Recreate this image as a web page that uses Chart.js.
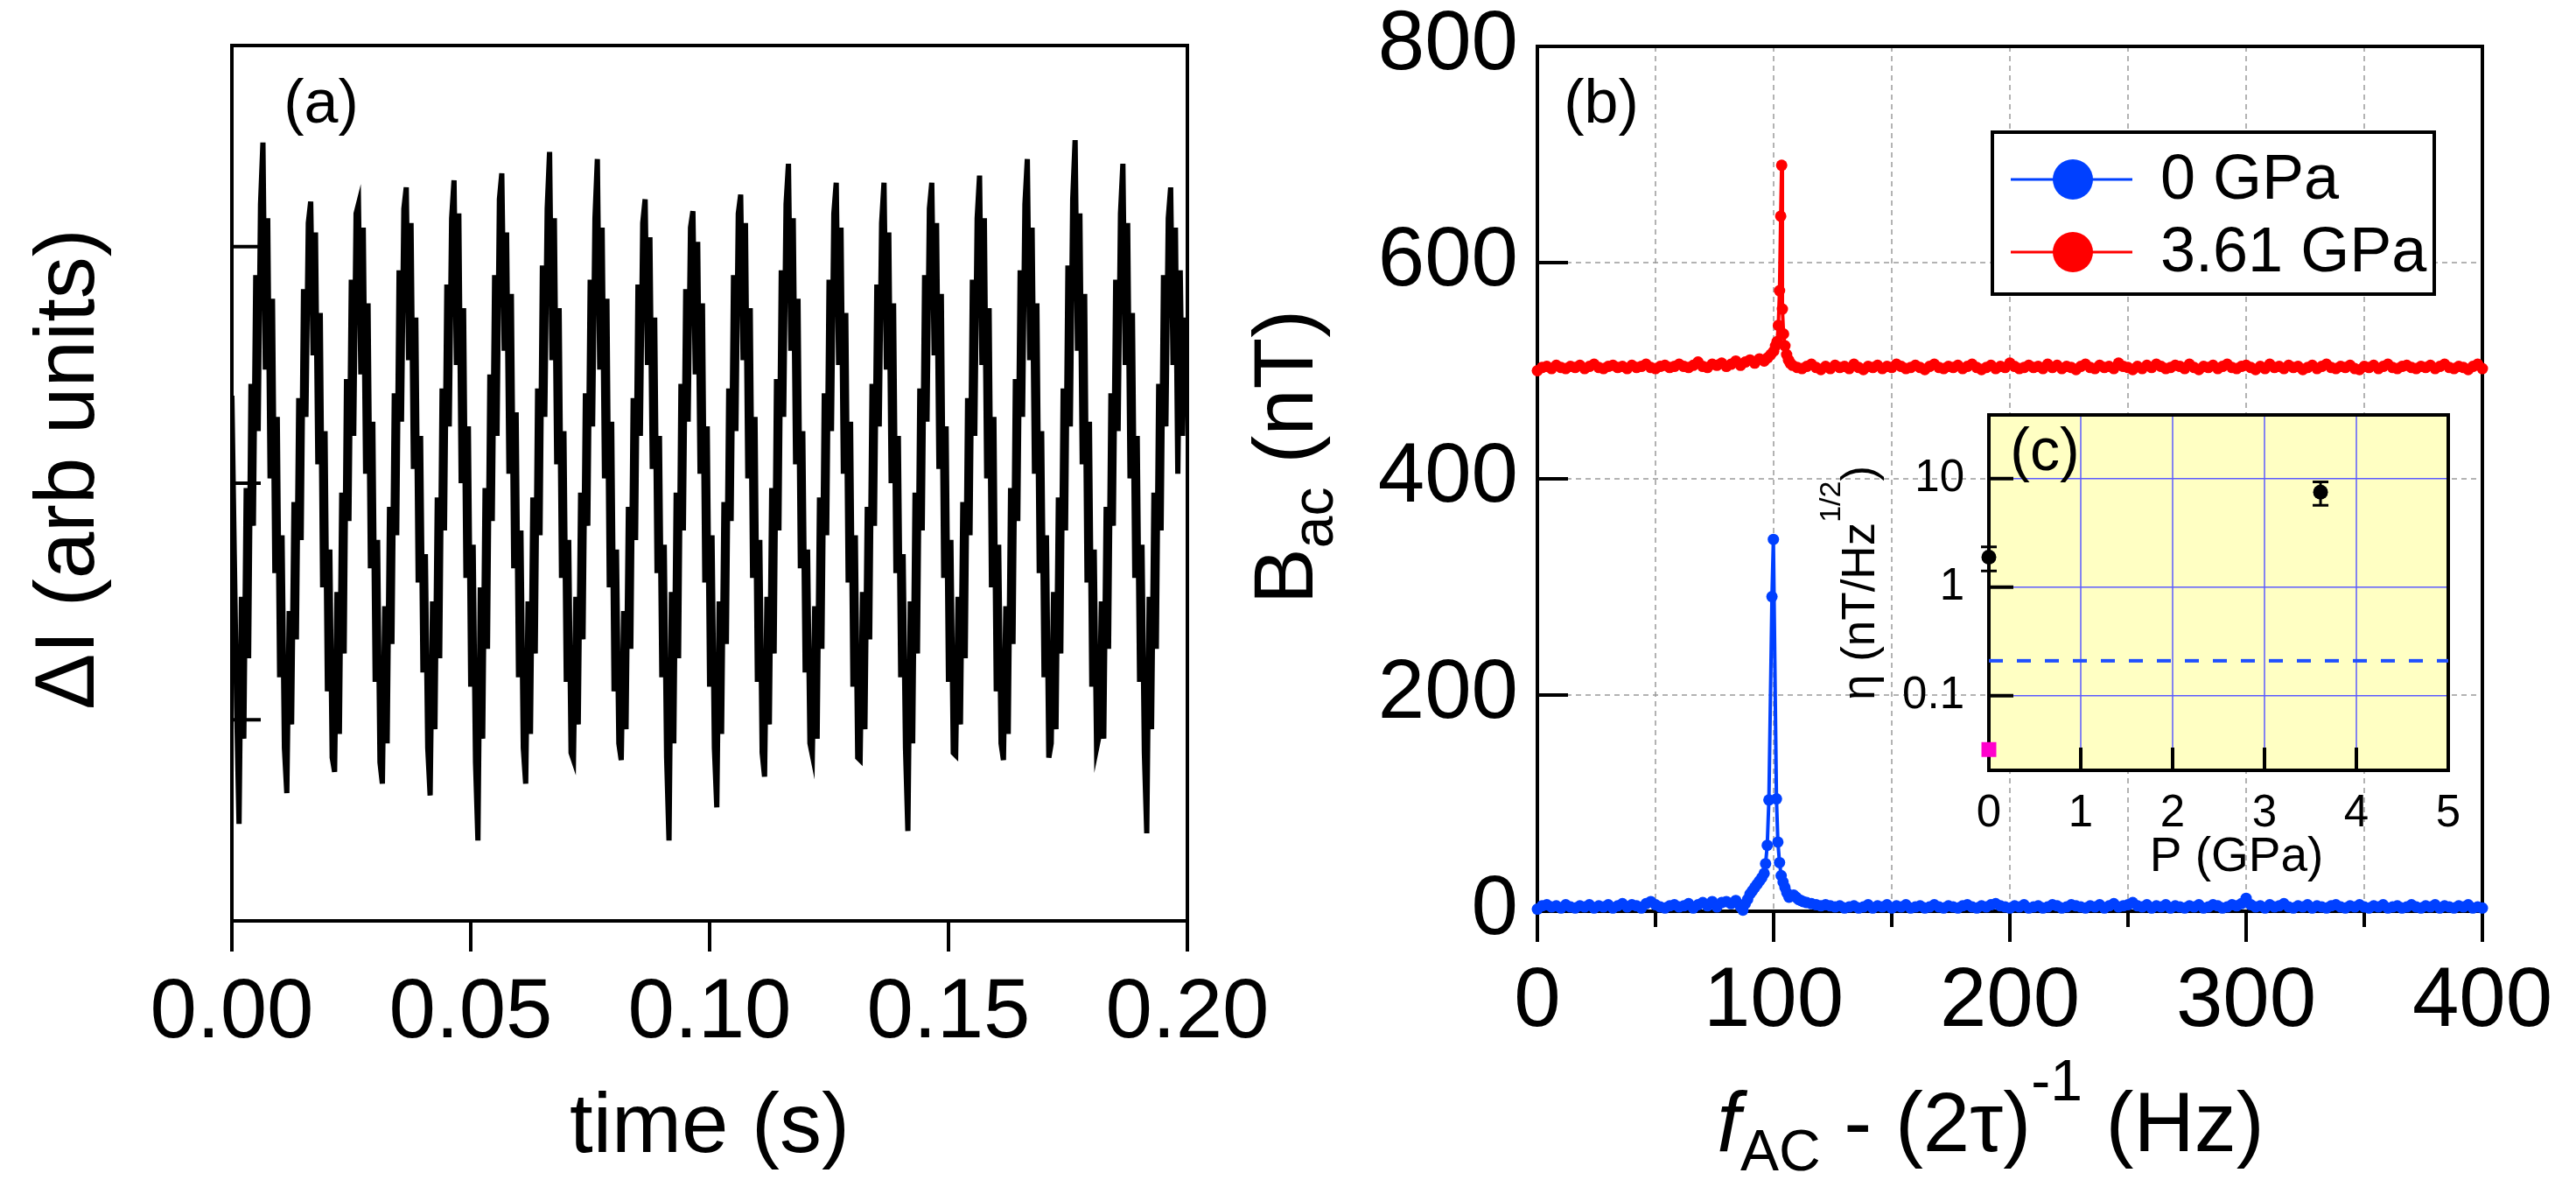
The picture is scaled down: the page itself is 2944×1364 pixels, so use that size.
<!DOCTYPE html>
<html>
<head>
<meta charset="utf-8">
<script src="https://cdn.jsdelivr.net/npm/chart.js@4.4.0/dist/chart.umd.min.js"></script>
<style>
  html, body { margin: 0; padding: 0; background: #fff; }
  #wrap { position: relative; width: 2944px; height: 1364px; overflow: hidden; }
  canvas { position: absolute; }
  #ca { left: 0; top: 0; }
  #cb { left: 1380px; top: 0; }
  #cc { left: 2000px; top: 400px; }
</style>
</head>
<body>
<div id="wrap">
  <canvas id="ca" width="1480" height="1364"></canvas>
  <canvas id="cb" width="1564" height="1364"></canvas>
  <canvas id="cc" width="860" height="640"></canvas>
</div>
<script>
const FONT = "'Liberation Sans', Arial, sans-serif";

// ---- (a) current trace, one sample every 0.5 ms from t = 0 ----
const traceT0 = 0;
const traceDt = 0.0005;
const traceI = [
  0.37, -0.3, -0.95,
  -1.44, -0.48, -1.08, -0.02, -0.74, 0.42, -0.18, 0.88, 0.22, 1.18, 1.44, 0.48, 1.12, 0.02, 0.78, -0.38, 0.28, -0.82, -0.22, -1.12,
  -1.31, -0.54, -1.02, -0.08, -0.66, 0.36, -0.24, 0.82, 0.28, 1.1, 1.19, 0.54, 1.06, 0.08, 0.72, -0.44, 0.22, -0.88, -0.28, -1.16,
  -1.22, -0.46, -1.06, -0.04, -0.72, 0.44, -0.16, 0.86, 0.2, 1.14, 1.18, 0.46, 1.08, 0.04, 0.76, -0.36, 0.26, -0.84, -0.24, -1.18,
  -1.27, -0.52, -1.1, -0.1, -0.68, 0.38, -0.22, 0.9, 0.26, 1.16, 1.25, 0.52, 1.1, 0.06, 0.7, -0.42, 0.2, -0.8, -0.3, -1.12,
  -1.32, -0.5, -1.04, -0.06, -0.74, 0.4, -0.2, 0.84, 0.24, 1.12, 1.28, 0.5, 1.14, 0.0, 0.74, -0.4, 0.24, -0.86, -0.26, -1.18,
  -1.51, -0.44, -1.08, -0.02, -0.7, 0.46, -0.16, 0.88, 0.2, 1.2, 1.31, 0.56, 1.06, 0.04, 0.8, -0.36, 0.3, -0.82, -0.2, -1.12,
  -1.27, -0.5, -1.06, -0.06, -0.72, 0.4, -0.22, 0.92, 0.28, 1.16, 1.4, 0.52, 1.12, 0.08, 0.74, -0.4, 0.22, -0.84, -0.24, -1.14,
  -1.17, -0.48, -1.02, -0.04, -0.66, 0.38, -0.18, 0.86, 0.24, 1.12, 1.37, 0.48, 1.08, 0.02, 0.78, -0.44, 0.26, -0.88, -0.28, -1.1,
  -1.17, -0.54, -1.04, -0.1, -0.7, 0.36, -0.24, 0.84, 0.2, 1.1, 1.2, 0.5, 1.04, 0.06, 0.7, -0.38, 0.2, -0.82, -0.26, -1.16,
  -1.51, -0.46, -1.1, -0.04, -0.74, 0.42, -0.2, 0.82, 0.26, 1.08, 1.15, 0.46, 1.02, 0.04, 0.76, -0.42, 0.24, -0.86, -0.22, -1.12,
  -1.37, -0.5, -1.06, -0.08, -0.68, 0.4, -0.16, 0.88, 0.22, 1.14, 1.22, 0.52, 1.1, 0.02, 0.74, -0.4, 0.28, -0.84, -0.24, -1.14,
  -1.24, -0.48, -1.02, -0.02, -0.72, 0.44, -0.2, 0.9, 0.28, 1.18, 1.35, 0.56, 1.12, 0.08, 0.78, -0.36, 0.22, -0.8, -0.28, -1.1,
  -1.15, -0.52, -1.08, -0.06, -0.7, 0.38, -0.22, 0.86, 0.22, 1.14, 1.27, 0.5, 1.08, 0.04, 0.72, -0.42, 0.26, -0.86, -0.22, -1.16,
  -1.17, -0.46, -1.04, -0.1, -0.66, 0.42, -0.18, 0.84, 0.24, 1.1, 1.27, 0.48, 1.06, 0.0, 0.76, -0.38, 0.2, -0.82, -0.3, -1.12,
  -1.47, -0.5, -1.1, -0.04, -0.72, 0.4, -0.2, 0.88, 0.26, 1.16, 1.27, 0.54, 1.1, 0.06, 0.8, -0.4, 0.24, -0.84, -0.24, -1.14,
  -1.15, -0.48, -1.02, -0.08, -0.74, 0.36, -0.22, 0.86, 0.2, 1.12, 1.3, 0.5, 1.12, 0.02, 0.74, -0.44, 0.28, -0.88, -0.26, -1.1,
  -1.17, -0.52, -1.06, -0.02, -0.68, 0.44, -0.16, 0.9, 0.28, 1.18, 1.37, 0.52, 1.08, 0.04, 0.76, -0.38, 0.22, -0.82, -0.22, -1.16,
  -1.1, -0.46, -1.04, -0.06, -0.72, 0.4, -0.2, 0.92, 0.24, 1.2, 1.45, 0.56, 1.14, 0.08, 0.8, -0.42, 0.26, -0.86, -0.28, -1.12,
  -1.07, -0.5, -1.08, -0.1, -0.7, 0.38, -0.18, 0.86, 0.22, 1.14, 1.35, 0.5, 1.1, 0.02, 0.72, -0.4, 0.2, -0.84, -0.26, -1.14,
  -1.48, -0.48, -1.04, -0.04, -0.7, 0.42, -0.2, 0.88, 0.24, 1.12, 1.25, 0.5, 1.08, 0.04, 0.9, 0.2, 0.7, 0.37
];
const timeTicks = [0, 0.05, 0.1, 0.15, 0.2];
const traceTicks = [-1, 0, 1];

// ---- (b) spectra: evenly spaced stretches (start, 2 Hz step) + the resolved peak ----
const specStep = 2;
const blueLowStart = 0;
const blueLow = [
  2, 5, 6, 4, 5, 3, 6, 4, 3, 5,
  4, 6, 3, 5, 4, 6, 3, 5, 7, 4,
  6, 5, 3, 7, 9, 6, 4, 3, 5, 6,
  4, 5, 7, 3, 6, 8, 5, 9, 4, 8,
  9, 7, 10
];
const bluePeakF = [86, 87, 88, 89, 90, 91, 92, 93, 94, 95, 96, 96.6, 97.3, 98.0, 99.3, 99.9, 101.2, 101.8, 102.5, 103.2, 104, 104.8, 105.6, 106.5, 107.5, 108.5, 109.5, 110.5, 111.5, 112.5, 114, 116, 118, 120];
const bluePeakB = [4, 1, 7, 11, 16, 19, 22, 25, 28, 31, 35, 44, 61, 103, 291, 344, 104, 64, 45, 33, 27, 22, 17, 13, 14, 15, 13, 11, 10, 9, 8, 7, 6, 5];
const blueHighStart = 122;
const blueHigh = [
  6, 5, 4, 5, 3, 4, 5, 3, 4, 6,
  3, 5, 4, 6, 3, 5, 4, 6, 3, 4,
  5, 3, 4, 6, 4, 3, 5, 4, 3, 5,
  6, 4, 3, 5, 4, 6, 7, 5, 4, 3,
  5, 4, 6, 3, 4, 5, 3, 4, 6, 5,
  3, 4, 6, 5, 4, 3, 5, 4, 6, 3,
  5, 7, 4, 5, 6, 8, 5, 4, 6, 3,
  5, 4, 6, 3, 5, 4, 3, 5, 4, 6,
  3, 4, 6, 5, 3, 4, 6, 5, 7, 12,
  6, 4, 5, 3, 6, 4, 5, 7, 4, 3,
  5, 4, 6, 3, 5, 4, 3, 5, 6, 4,
  3, 5, 4, 6, 4, 3, 5, 4, 6, 3,
  4, 5, 3, 4, 6, 4, 3, 5, 4, 6,
  3, 5, 4, 3, 5, 4, 6, 3, 4, 3
];
const redLowStart = 0;
const redLow = [
  500, 503, 504, 502, 505, 503, 502, 504, 503, 505,
  502, 504, 506, 503, 502, 504, 505, 503, 504, 502,
  505, 503, 504, 506, 503, 502, 504, 505, 503, 504,
  506, 504, 503, 505, 508, 504, 503, 506, 505, 507,
  504, 506, 509, 505, 508, 510, 507, 511, 509
];
const redPeakF = [97.5, 98.8, 100, 100.8, 101.5, 102.0, 102.5, 103.0, 103.4, 103.7, 104.2, 104.8, 105.5, 106.3, 107];
const redPeakB = [512, 515, 518, 523, 527, 542, 574, 643, 690, 557, 534, 523, 515, 510, 507];
const redHighStart = 108;
const redHigh = [
  505, 503, 502, 504, 506, 503, 501, 504, 502, 505,
  503, 504, 502, 506, 503, 501, 504, 503, 505, 502,
  504, 503, 506, 504, 502, 503, 505, 503, 501, 504,
  506, 503, 502, 504, 503, 505, 502, 504, 506, 503,
  501, 503, 505, 502, 504, 503, 507, 504, 502, 503,
  505, 503, 504, 502, 506, 503, 505, 502, 504, 503,
  501, 504, 506, 503, 502, 505, 503, 504, 502, 507,
  504, 503, 501, 504, 502, 505, 503, 506, 504, 502,
  503, 505, 504, 502, 506, 503, 501, 504, 503, 505,
  502, 504, 506, 503, 502, 504, 505, 503, 501, 504,
  502, 506, 503, 504, 502, 505, 503, 504, 501, 503,
  505, 502, 504, 506, 503, 502, 504, 503, 505, 502,
  501, 504, 503, 505, 502, 504, 506, 503, 502, 504,
  505, 503, 502, 504, 503, 505, 502, 504, 506, 503,
  502, 504, 503, 501, 504, 506, 502
];
const seriesNames = ['0 GPa', '3.61 GPa'];
const seriesColors = ['#0040ff', '#ff0000'];
const freqTicks = [0, 100, 200, 300, 400];
const freqMinor = [50, 150, 250, 350];
const freqGrid = [50, 100, 150, 200, 250, 300, 350];
const bTicks = [200, 400, 600];

// ---- (c) sensitivity vs pressure ----
const pressure = [0, 3.61];
const eta = [1.89, 7.48];
const etaLow = [1.41, 5.66];
const etaHigh = [2.35, 9.3];
const refP = [0];
const refEta = [0.032];
const limitP = [0, 5];
const limitEta = [0.21, 0.21];
const pTicks = [1, 2, 3, 4];
const etaTicks = [0.1, 1, 10];

const fontOf = p => (p.italic ? 'italic ' : '') + p.size + 'px ' + FONT;

// draw a run of text pieces (sub/superscripts via dy) centred on x, along a baseline
function drawParts(ctx, parts, x, y, angle) {
  ctx.save();
  ctx.translate(x, y);
  if (angle) ctx.rotate(angle);
  ctx.fillStyle = '#000';
  ctx.textBaseline = 'alphabetic';
  ctx.textAlign = 'left';
  let total = 0;
  parts.forEach(p => { ctx.font = fontOf(p); p.w = ctx.measureText(p.t).width; total += p.w; });
  let cx = -total / 2;
  parts.forEach(p => { ctx.font = fontOf(p); ctx.fillText(p.t, cx, p.dy || 0); cx += p.w; });
  ctx.restore();
}

function spectrum(lowStart, low, peakF, peakB, highStart, high) {
  const pts = low.map((b, i) => ({ x: lowStart + i * specStep, y: b }));
  peakF.forEach((f, i) => pts.push({ x: f, y: peakB[i] }));
  high.forEach((b, i) => pts.push({ x: highStart + i * specStep, y: b }));
  return pts;
}

const common = {
  responsive: false,
  animation: false,
  events: [],
  devicePixelRatio: 1,
  plugins: { legend: { display: false }, tooltip: { enabled: false } }
};

// ---------- panel (a) ----------
const panelA = {
  id: 'panelA',
  afterDatasetsDraw(chart) {
    const { ctx, chartArea: a, scales: { x, y } } = chart;
    ctx.save();
    ctx.strokeStyle = '#000';
    ctx.lineWidth = 4;
    ctx.strokeRect(a.left, a.top, a.right - a.left, a.bottom - a.top);
    ctx.beginPath();
    timeTicks.forEach(v => {
      const p = x.getPixelForValue(v);
      ctx.moveTo(p, a.bottom); ctx.lineTo(p, a.bottom + 35);
    });
    traceTicks.forEach(v => {
      const p = y.getPixelForValue(v);
      ctx.moveTo(a.left, p); ctx.lineTo(a.left + 33, p);
    });
    ctx.stroke();
    ctx.restore();
    drawParts(ctx, [{ t: '(a)', size: 70 }], 367, 140);
    drawParts(ctx, [{ t: 'time (s)', size: 96 }], (a.left + a.right) / 2, 1316);
    drawParts(ctx, [{ t: '\u0394I (arb units)', size: 96 }], 107, 536, -Math.PI / 2);
  }
};

new Chart(document.getElementById('ca'), {
  type: 'line',
  data: {
    datasets: [{
      data: traceI.map((v, i) => ({ x: traceT0 + i * traceDt, y: v })),
      borderColor: '#000',
      borderWidth: 6,
      pointRadius: 0,
      tension: 0
    }]
  },
  options: {
    ...common,
    layout: { padding: { top: 52, right: 123, left: 0, bottom: 0 } },
    scales: {
      x: {
        type: 'linear', min: 0, max: 0.2,
        afterBuildTicks: s => { s.ticks = timeTicks.map(v => ({ value: v })); },
        ticks: { font: { family: FONT, size: 96 }, color: '#000', padding: 49, maxRotation: 0, autoSkip: false, callback: v => v.toFixed(2) },
        grid: { display: false, drawTicks: false },
        border: { display: false },
        afterFit: s => { s.height = 312; s.paddingLeft = 0; s.paddingRight = 0; }
      },
      y: {
        min: -1.85, max: 1.85,
        ticks: { display: false },
        grid: { display: false, drawTicks: false },
        border: { display: false },
        afterFit: s => { s.width = 265; s.paddingTop = 0; s.paddingBottom = 0; }
      }
    }
  },
  plugins: [panelA]
});

// ---------- panel (b) ----------
const panelB = {
  id: 'panelB',
  beforeDatasetsDraw(chart) {
    const { ctx, chartArea: a, scales: { x, y } } = chart;
    ctx.save();
    ctx.strokeStyle = '#9a9a9a';
    ctx.lineWidth = 1.5;
    ctx.setLineDash([6, 5]);
    ctx.beginPath();
    freqGrid.forEach(v => { const p = x.getPixelForValue(v); ctx.moveTo(p, a.top); ctx.lineTo(p, a.bottom); });
    bTicks.forEach(v => { const p = y.getPixelForValue(v); ctx.moveTo(a.left, p); ctx.lineTo(a.right, p); });
    ctx.stroke();
    ctx.setLineDash([]);
    ctx.strokeStyle = '#000';
    ctx.lineWidth = 4;
    ctx.strokeRect(a.left, a.top, a.right - a.left, a.bottom - a.top);
    ctx.beginPath();
    freqTicks.forEach(v => { const p = x.getPixelForValue(v); ctx.moveTo(p, a.bottom); ctx.lineTo(p, a.bottom + 35); });
    freqMinor.forEach(v => { const p = x.getPixelForValue(v); ctx.moveTo(p, a.bottom); ctx.lineTo(p, a.bottom + 18); });
    bTicks.forEach(v => { const p = y.getPixelForValue(v); ctx.moveTo(a.left, p); ctx.lineTo(a.left + 35, p); });
    ctx.stroke();
    ctx.restore();
  },
  afterDatasetsDraw(chart) {
    const { ctx } = chart;
    // legend box
    const bx = 897, by = 151, bw = 505, bh = 185;
    ctx.save();
    ctx.fillStyle = '#fff';
    ctx.fillRect(bx, by, bw, bh);
    ctx.strokeStyle = '#000';
    ctx.lineWidth = 4;
    ctx.strokeRect(bx, by, bw, bh);
    [205, 288].forEach((ly, i) => {
      ctx.strokeStyle = seriesColors[i];
      ctx.lineWidth = 3;
      ctx.beginPath(); ctx.moveTo(918, ly); ctx.lineTo(1057, ly); ctx.stroke();
      ctx.fillStyle = seriesColors[i];
      ctx.beginPath(); ctx.arc(989, ly, 23, 0, Math.PI * 2); ctx.fill();
      ctx.fillStyle = '#000';
      ctx.font = fontOf({ size: 72 });
      ctx.textBaseline = 'middle';
      ctx.fillText(seriesNames[i], 1089, ly + 2);
    });
    ctx.restore();
    drawParts(ctx, [{ t: '(b)', size: 70 }], 450, 140);
    drawParts(ctx, [
      { t: 'f', size: 96, italic: true },
      { t: 'AC', size: 66, dy: 22 },
      { t: ' - (2\u03c4)', size: 96 },
      { t: '-1', size: 66, dy: -58 },
      { t: ' (Hz)', size: 96 }
    ], 895, 1315);
    drawParts(ctx, [
      { t: 'B', size: 96 },
      { t: 'ac', size: 66, dy: 23 },
      { t: ' (nT)', size: 96 }
    ], 120, 522, -Math.PI / 2);
  }
};

const specDataset = (pts, color) => ({
  data: pts,
  borderColor: color,
  backgroundColor: color,
  pointBackgroundColor: color,
  borderWidth: 4,
  pointRadius: 6.5,
  pointBorderWidth: 0,
  tension: 0,
  clip: false
});

new Chart(document.getElementById('cb'), {
  type: 'line',
  data: {
    datasets: [
      specDataset(spectrum(redLowStart, redLow, redPeakF, redPeakB, redHighStart, redHigh), seriesColors[1]),
      specDataset(spectrum(blueLowStart, blueLow, bluePeakF, bluePeakB, blueHighStart, blueHigh), seriesColors[0])
    ]
  },
  options: {
    ...common,
    layout: { padding: { top: 53, right: 107, left: 0, bottom: 0 } },
    scales: {
      x: {
        type: 'linear', min: 0, max: 400,
        afterBuildTicks: s => { s.ticks = freqTicks.map(v => ({ value: v })); },
        ticks: { font: { family: FONT, size: 96 }, color: '#000', padding: 47, maxRotation: 0, autoSkip: false },
        grid: { display: false, drawTicks: false },
        border: { display: false },
        afterFit: s => { s.height = 323; s.paddingLeft = 0; s.paddingRight = 0; }
      },
      y: {
        min: 0, max: 800,
        afterBuildTicks: s => { s.ticks = [0, 200, 400, 600, 800].map(v => ({ value: v })); },
        ticks: { font: { family: FONT, size: 96 }, color: '#000', padding: 22 },
        grid: { display: false, drawTicks: false },
        border: { display: false },
        afterFit: s => { s.width = 377; s.paddingTop = 0; s.paddingBottom = 0; }
      }
    }
  },
  plugins: [panelB]
});

// ---------- inset (c) ----------
const panelC = {
  id: 'panelC',
  beforeDatasetsDraw(chart) {
    const { ctx, chartArea: a, scales: { x, y } } = chart;
    ctx.save();
    ctx.fillStyle = '#ffffc3';
    ctx.fillRect(a.left, a.top, a.right - a.left, a.bottom - a.top);
    ctx.strokeStyle = '#5c5cff';
    ctx.lineWidth = 1.5;
    ctx.beginPath();
    pTicks.forEach(v => { const p = x.getPixelForValue(v); ctx.moveTo(p, a.top); ctx.lineTo(p, a.bottom); });
    etaTicks.forEach(v => { const p = y.getPixelForValue(v); ctx.moveTo(a.left, p); ctx.lineTo(a.right, p); });
    ctx.stroke();
    ctx.strokeStyle = '#000';
    ctx.lineWidth = 4;
    ctx.strokeRect(a.left, a.top, a.right - a.left, a.bottom - a.top);
    ctx.beginPath();
    pTicks.forEach(v => { const p = x.getPixelForValue(v); ctx.moveTo(p, a.bottom); ctx.lineTo(p, a.bottom - 26); });
    etaTicks.forEach(v => { const p = y.getPixelForValue(v); ctx.moveTo(a.left, p); ctx.lineTo(a.left + 28, p); });
    ctx.stroke();
    ctx.restore();
  },
  afterDatasetsDraw(chart) {
    const { ctx, scales: { x, y } } = chart;
    ctx.save();
    ctx.strokeStyle = '#000';
    ctx.lineWidth = 3;
    ctx.beginPath();
    pressure.forEach((p, i) => {
      const px = x.getPixelForValue(p);
      const lo = y.getPixelForValue(etaLow[i]);
      const hi = y.getPixelForValue(etaHigh[i]);
      ctx.moveTo(px, lo); ctx.lineTo(px, hi);
      ctx.moveTo(px - 9, lo); ctx.lineTo(px + 9, lo);
      ctx.moveTo(px - 9, hi); ctx.lineTo(px + 9, hi);
    });
    ctx.stroke();
    ctx.restore();
    drawParts(ctx, [{ t: '(c)', size: 68 }], 337, 137);
    drawParts(ctx, [{ t: 'P (GPa)', size: 55 }], 556, 595);
    drawParts(ctx, [
      { t: '\u03b7 (nT/Hz', size: 53 },
      { t: '1/2', size: 34, dy: -39 },
      { t: ')', size: 53 }
    ], 142, 266, -Math.PI / 2);
  }
};

new Chart(document.getElementById('cc'), {
  type: 'line',
  data: {
    datasets: [
      {
        data: limitP.map((p, i) => ({ x: p, y: limitEta[i] })),
        borderColor: '#1f4fff', borderWidth: 4, borderDash: [16, 16],
        pointRadius: 0, tension: 0
      },
      {
        data: pressure.map((p, i) => ({ x: p, y: eta[i] })),
        showLine: false, pointRadius: 8.5, pointBorderWidth: 0,
        pointBackgroundColor: '#000', clip: false
      },
      {
        data: refP.map((p, i) => ({ x: p, y: refEta[i] })),
        showLine: false, pointStyle: 'rect', pointRadius: 12, pointBorderWidth: 0,
        pointBackgroundColor: '#ff00cc', clip: false
      }
    ]
  },
  options: {
    ...common,
    layout: { padding: { top: 74, right: 62, left: 0, bottom: 0 } },
    scales: {
      x: {
        type: 'linear', min: 0, max: 5,
        afterBuildTicks: s => { s.ticks = [0, 1, 2, 3, 4, 5].map(v => ({ value: v })); },
        ticks: { font: { family: FONT, size: 51 }, color: '#000', padding: 19, maxRotation: 0, autoSkip: false },
        grid: { display: false, drawTicks: false },
        border: { display: false },
        afterFit: s => { s.height = 160; s.paddingLeft = 0; s.paddingRight = 0; }
      },
      y: {
        type: 'logarithmic', min: 0.0206, max: 38.5,
        afterBuildTicks: s => { s.ticks = etaTicks.map(v => ({ value: v })); },
        ticks: { font: { family: FONT, size: 51 }, color: '#000', padding: 28, callback: v => String(v) },
        grid: { display: false, drawTicks: false },
        border: { display: false },
        afterFit: s => { s.width = 273; s.paddingTop = 0; s.paddingBottom = 0; }
      }
    }
  },
  plugins: [panelC]
});
</script>
</body>
</html>
